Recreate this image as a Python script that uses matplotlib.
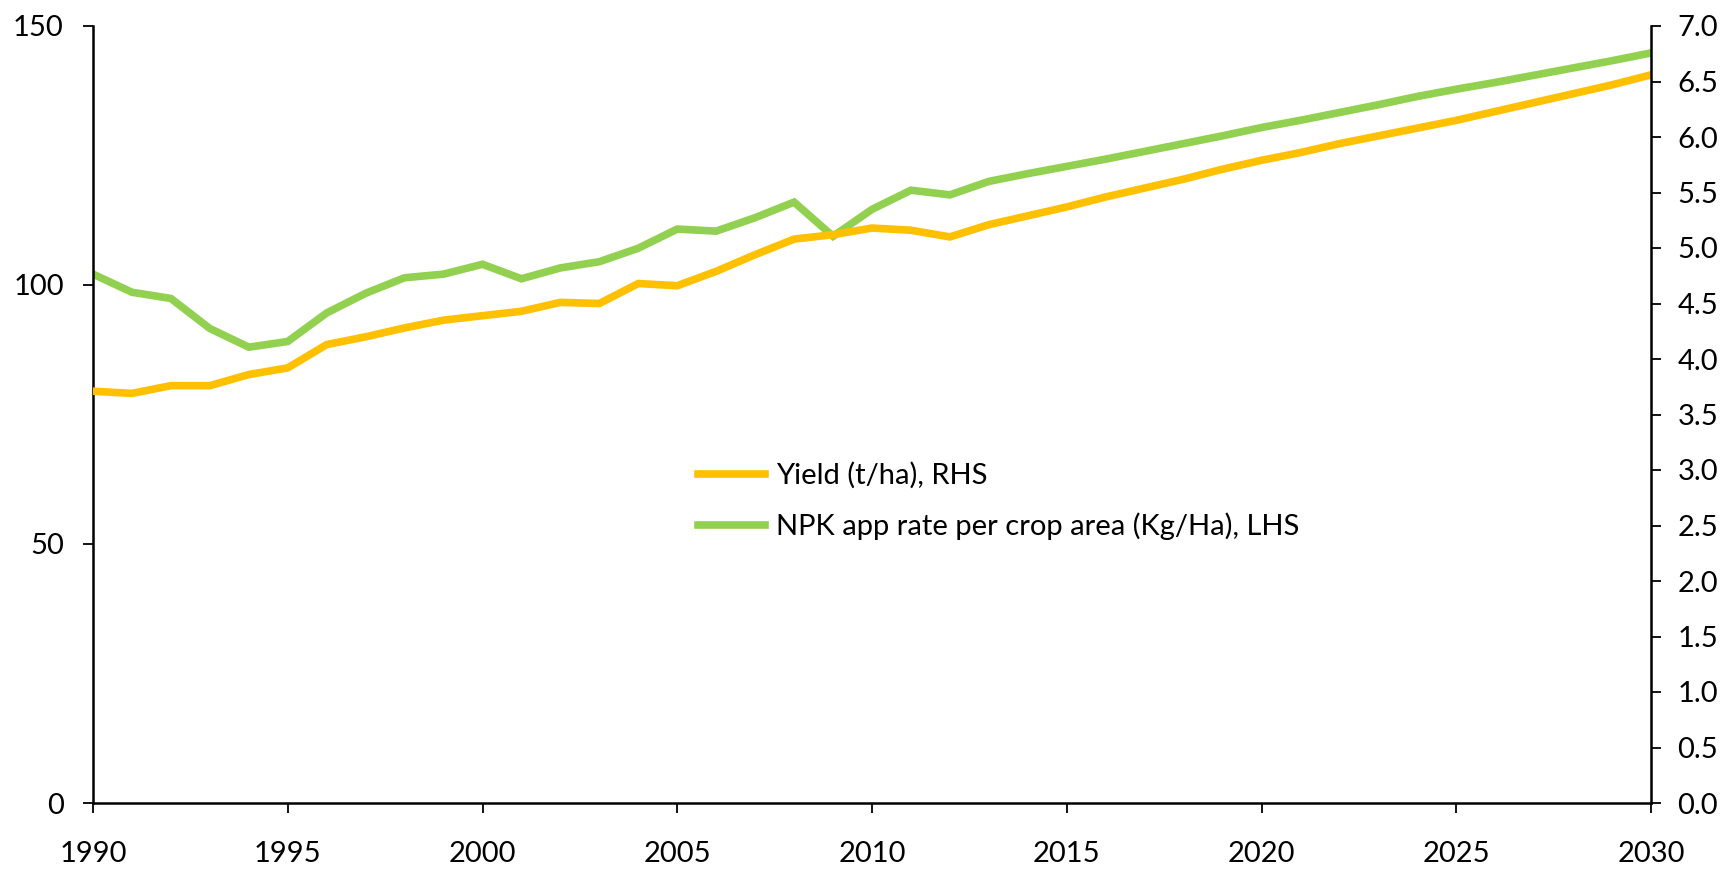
import matplotlib
matplotlib.use('Agg')
import matplotlib.pyplot as plt
from matplotlib.ticker import MultipleLocator, FormatStrFormatter

plt.rcParams['font.family'] = ['Lato', 'DejaVu Sans']

years = list(range(1990, 2031))

# NPK application rate per crop area (kg/ha), left axis
npk = [102.1, 98.6, 97.4, 91.6, 88.0, 89.1, 94.6, 98.4, 101.4, 102.1,
       104.0, 101.2, 103.3, 104.5, 107.1, 110.8, 110.4, 113.0, 116.0, 109.4,
       114.6, 118.3, 117.4, 120.0, 121.5, 122.9, 124.3, 125.8, 127.3, 128.8,
       130.4, 131.8, 133.3, 134.8, 136.4, 137.8, 139.1, 140.5, 141.9, 143.3,
       144.8]

# Yield (t/ha), right axis
yld = [3.71, 3.69, 3.76, 3.76, 3.86, 3.92, 4.13, 4.20, 4.28, 4.35,
       4.39, 4.43, 4.51, 4.50, 4.68, 4.66, 4.79, 4.94, 5.08, 5.12,
       5.18, 5.16, 5.10, 5.21, 5.29, 5.37, 5.46, 5.54, 5.62, 5.71,
       5.79, 5.86, 5.94, 6.01, 6.08, 6.15, 6.23, 6.31, 6.39, 6.47,
       6.56]

green = '#92D050'
yellow = '#FFC000'
fs = 21

fig, ax = plt.subplots(figsize=(17.21, 8.69), dpi=100)
fig.subplots_adjust(left=93/1721, right=1651/1721, top=1-26/869, bottom=1-803/869)
ax2 = ax.twinx()

l_npk, = ax.plot(years, npk, color=green, lw=5.5, solid_joinstyle='miter',
                 label='NPK app rate per crop area (Kg/Ha), LHS')
l_yld, = ax2.plot(years, yld, color=yellow, lw=5.5, solid_joinstyle='miter',
                  label='Yield (t/ha), RHS')

ax.set_xlim(1990, 2030)
ax.set_ylim(0, 150)
ax2.set_ylim(0, 7)
ax.xaxis.set_major_locator(MultipleLocator(5))
ax.yaxis.set_major_locator(MultipleLocator(50))
ax2.yaxis.set_major_locator(MultipleLocator(0.5))
ax2.yaxis.set_major_formatter(FormatStrFormatter('%.1f'))

for a in (ax, ax2):
    a.spines['top'].set_visible(False)
    for s in a.spines.values():
        s.set_linewidth(1.8)
        s.set_color('black')
ax.spines['right'].set_visible(False)
ax2.spines['left'].set_visible(False)
ax2.spines['bottom'].set_visible(False)

ax.tick_params(axis='y', direction='out', length=7, width=1.3, labelsize=fs, pad=14)
ax.tick_params(axis='x', direction='out', length=7, width=1.3, labelsize=fs, pad=20)
ax2.tick_params(axis='y', direction='out', length=7, width=1.3, labelsize=fs, pad=12)

fig.legend(handles=[l_yld, l_npk], loc='center left',
           bbox_to_anchor=(672/1721, 1-501/869), frameon=False, fontsize=fs,
           handlelength=2.3, handletextpad=0.38, labelspacing=0.8)

fig.savefig('out.png', dpi=100)
